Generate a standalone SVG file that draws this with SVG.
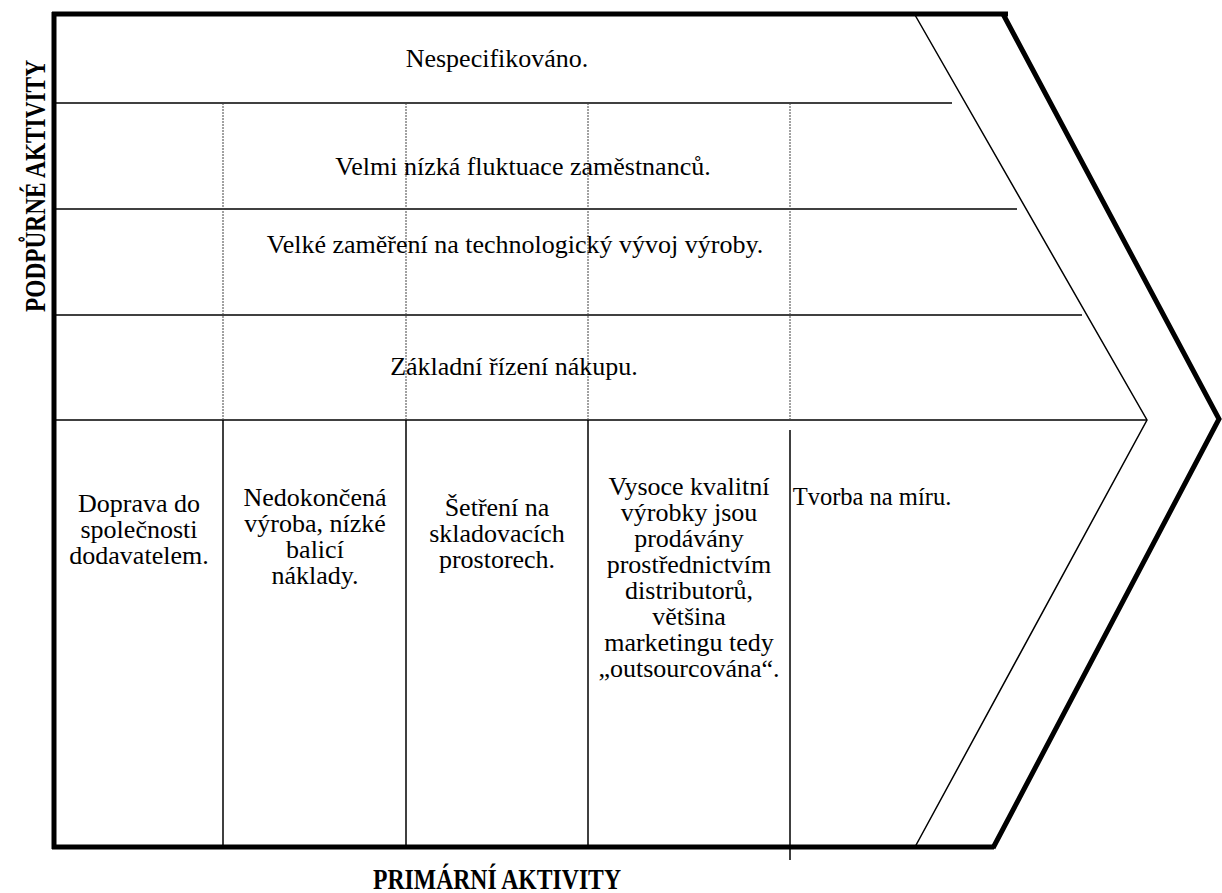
<svg xmlns="http://www.w3.org/2000/svg" width="1222" height="893" viewBox="0 0 1222 893">
<style>
.t{font-family:"Liberation Serif","Times New Roman",serif;font-size:26px;fill:#000;text-anchor:middle}
.b{font-family:"Liberation Serif","Times New Roman",serif;font-size:29px;font-weight:bold;fill:#000;text-anchor:middle}
.thick{stroke:#000;stroke-width:5;fill:none}
.thin{stroke:#000;stroke-width:1.5;fill:none}
.dot{stroke:#444;stroke-width:1;stroke-dasharray:2 1;fill:none}
</style>
<rect width="1222" height="893" fill="#fff"/>
<g id="frame">
<line class="thick" x1="52" y1="14" x2="1008" y2="14"/>
<line class="thick" x1="54" y1="12" x2="54" y2="849"/>
<line class="thick" x1="52" y1="847" x2="994" y2="847"/>
<polyline class="thick" points="1003,14 1219,419 993,848"/>
<polyline class="thin" points="915,15 1147,420 915,847"/>
</g>
<g id="connectors">
<line class="thin" x1="54" y1="103" x2="952" y2="103"/>
<line class="thin" x1="54" y1="209" x2="1017" y2="209"/>
<line class="thin" x1="54" y1="315" x2="1082" y2="315"/>
<line class="thin" x1="54" y1="420" x2="1147" y2="420"/>
<line class="dot" x1="223" y1="103" x2="223" y2="420"/>
<line class="dot" x1="406" y1="103" x2="406" y2="420"/>
<line class="dot" x1="588" y1="103" x2="588" y2="420"/>
<line class="dot" x1="790" y1="103" x2="790" y2="420"/>
<line class="thin" x1="223" y1="420" x2="223" y2="847"/>
<line class="thin" x1="406" y1="420" x2="406" y2="847"/>
<line class="thin" x1="588" y1="420" x2="588" y2="847"/>
<line class="thin" x1="790" y1="430" x2="790" y2="860"/>
</g>
<g id="support1"><text class="t" x="497" y="67">Nespecifikováno.</text></g>
<g id="support2"><text class="t" x="523" y="175">Velmi nízká fluktuace zaměstnanců.</text></g>
<g id="support3"><text class="t" x="515" y="253">Velké zaměření na technologický vývoj výroby.</text></g>
<g id="support4"><text class="t" x="514" y="375">Základní řízení nákupu.</text></g>
<g id="primary1"><text class="t"><tspan x="139" y="512">Doprava do</tspan><tspan x="139" y="538">společnosti</tspan><tspan x="139" y="564">dodavatelem.</tspan></text></g>
<g id="primary2"><text class="t"><tspan x="315" y="506">Nedokončená</tspan><tspan x="315" y="532">výroba, nízké</tspan><tspan x="315" y="558">balicí</tspan><tspan x="315" y="584">náklady.</tspan></text></g>
<g id="primary3"><text class="t"><tspan x="497" y="516">Šetření na</tspan><tspan x="497" y="542">skladovacích</tspan><tspan x="497" y="568">prostorech.</tspan></text></g>
<g id="primary4"><text class="t"><tspan x="689" y="495">Vysoce kvalitní</tspan><tspan x="689" y="521">výrobky jsou</tspan><tspan x="689" y="547">prodávány</tspan><tspan x="689" y="573">prostřednictvím</tspan><tspan x="689" y="599">distributorů,</tspan><tspan x="689" y="625">většina</tspan><tspan x="689" y="651">marketingu tedy</tspan><tspan x="689" y="677">„outsourcována“.</tspan></text></g>
<g id="primary5"><text class="t" x="872" y="505" style="font-size:24.5px">Tvorba na míru.</text></g>
<g id="label-support"><text class="b" transform="translate(45,186) rotate(-90)" x="0" y="0" textLength="252" lengthAdjust="spacingAndGlyphs">PODPŮRNÉ AKTIVITY</text></g>
<g id="label-primary"><text class="b" x="497" y="889" textLength="248" lengthAdjust="spacingAndGlyphs">PRIMÁRNÍ AKTIVITY</text></g>
</svg>
